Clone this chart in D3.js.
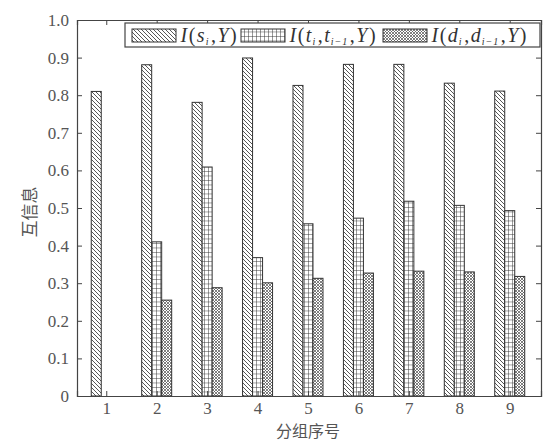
<!DOCTYPE html>
<html>
<head>
<meta charset="utf-8">
<script src="https://cdn.jsdelivr.net/npm/d3@7"></script>
<style>
  body { margin: 0; background: #fff; }
  svg { display: block; }
</style>
</head>
<body>
<div id="chart"></div>
<script>
// data
const groups = [1, 2, 3, 4, 5, 6, 7, 8, 9]
const sValues = [0.81, 0.881, 0.781, 0.899, 0.826, 0.882, 0.882, 0.832, 0.811]
const tValues = [null, 0.41, 0.609, 0.368, 0.458, 0.473, 0.518, 0.507, 0.493]
const dValues = [null, 0.255, 0.288, 0.301, 0.313, 0.327, 0.332, 0.33, 0.318]
const yTicks = [0, 0.1, 0.2, 0.3, 0.4, 0.5, 0.6, 0.7, 0.8, 0.9, 1.0]

var W = 545, H = 441
var mLeft = 77, mRight = 541, mTop = 20, mBottom = 396

var svg = d3.select("#chart").append("svg")
    .attr("width", W)
    .attr("height", H)

var defs = svg.append("defs")

// diagonal hatch "\\\"
var p1 = defs.append("pattern").attr("id", "hatch")
    .attr("patternUnits", "userSpaceOnUse").attr("width", 4).attr("height", 4)
p1.append("rect").attr("width", 4).attr("height", 4).attr("fill", "#fff")
p1.append("path").attr("d", "M-1,-1 L5,5 M-1,3 L1,5 M3,-1 L5,1")
    .attr("stroke", "#444").attr("stroke-width", 0.9)

// square grid
var p2 = defs.append("pattern").attr("id", "grid")
    .attr("patternUnits", "userSpaceOnUse").attr("width", 4).attr("height", 4.5)
p2.append("rect").attr("width", 4).attr("height", 4.5).attr("fill", "#fff")
p2.append("path").attr("d", "M0,0 H4 M0,0 V4.5")
    .attr("stroke", "#333").attr("stroke-width", 1)

// fine crosshatch
var p3 = defs.append("pattern").attr("id", "cross")
    .attr("patternUnits", "userSpaceOnUse").attr("width", 3).attr("height", 3)
p3.append("rect").attr("width", 3).attr("height", 3).attr("fill", "#fff")
p3.append("path").attr("d", "M0,0 L3,3 M3,0 L0,3")
    .attr("stroke", "#555").attr("stroke-width", 0.75)

var x = d3.scaleLinear().domain([0.42, 9.62]).range([mLeft, mRight])
var y = d3.scaleLinear().domain([0, 1]).range([mBottom, mTop])

var barW = 10
var series = [
    { vals: sValues, fill: "url(#hatch)", off: -10 },
    { vals: tValues, fill: "url(#grid)", off: 0 },
    { vals: dValues, fill: "url(#cross)", off: 10 }
]

series.forEach(function (s) {
    svg.append("g").selectAll("rect")
        .data(groups.map(function (g, i) { return { g: g, v: s.vals[i] } }).filter(function (d) { return d.v != null }))
        .enter().append("rect")
        .attr("x", function (d) { return x(d.g) + s.off - barW / 2 })
        .attr("y", function (d) { return y(d.v) })
        .attr("width", barW)
        .attr("height", function (d) { return mBottom - y(d.v) })
        .attr("fill", s.fill)
        .attr("stroke", "#333")
        .attr("stroke-width", 1)
})

// axes, ticks pointing inward
var serif = "'Liberation Serif', 'DejaVu Serif', serif"

svg.append("g").attr("transform", "translate(" + mLeft + ",0)")
    .call(d3.axisLeft(y).tickValues(yTicks).tickSize(-5).tickPadding(8)
        .tickFormat(function (d) { return d === 0 ? "0" : d3.format(".1f")(d) }))
svg.append("g").attr("transform", "translate(" + mRight + ",0)")
    .call(d3.axisRight(y).tickValues(yTicks).tickSize(-5).tickFormat(""))
svg.append("g").attr("transform", "translate(0," + mBottom + ")")
    .call(d3.axisBottom(x).tickValues(groups).tickSize(-5).tickPadding(6)
        .tickFormat(d3.format("d")))
svg.append("g").attr("transform", "translate(0," + mTop + ")")
    .call(d3.axisTop(x).tickValues(groups).tickSize(-5).tickFormat(""))

svg.selectAll(".domain").attr("stroke", "#444").attr("stroke-width", 1.2)
svg.selectAll(".tick line").attr("stroke", "#444")
svg.selectAll(".tick text")
    .attr("font-family", serif)
    .style("font-family", serif)
    .style("font-size", "17px")
    .attr("fill", "#555")

// legend
var lg = svg.append("g")
lg.append("rect").attr("x", 125).attr("y", 23).attr("width", 415).attr("height", 24)
    .attr("fill", "#fff").attr("stroke", "#444").attr("stroke-width", 1.2)

// parts: [text, style] where style: i = italic, n = upright, s = subscript
var legendItems = [
    { fill: "url(#hatch)", x: 132, parts: [["I", "i"], ["(", "n"], ["s", "i"], ["i", "s"], [",", "n"], ["Y", "i"], [")", "n"]] },
    { fill: "url(#grid)", x: 241, parts: [["I", "i"], ["(", "n"], ["t", "i"], ["i", "s"], [",", "n"], ["t", "i"], ["i−1", "s"], [",", "n"], ["Y", "i"], [")", "n"]] },
    { fill: "url(#cross)", x: 383, parts: [["I", "i"], ["(", "n"], ["d", "i"], ["i", "s"], [",", "n"], ["d", "i"], ["i−1", "s"], [",", "n"], ["Y", "i"], [")", "n"]] }
]

legendItems.forEach(function (it) {
    lg.append("rect").attr("x", it.x).attr("y", 29).attr("width", 44).attr("height", 13)
        .attr("fill", it.fill).attr("stroke", "#333").attr("stroke-width", 1)
    var t = lg.append("text").attr("x", it.x + 47).attr("y", 42)
        .style("font-family", serif)
        .style("font-size", "20px").attr("fill", "#333")
    var wasSub = false
    it.parts.forEach(function (p) {
        var ts = t.append("tspan").text(p[0])
        if (p[1] === "s") {
            ts.style("font-size", "10px").style("font-style", "italic")
                .attr("dy", 3).attr("dx", 1).style("letter-spacing", "1px")
            wasSub = true
        } else {
            ts.style("font-style", p[1] === "i" ? "italic" : "normal")
                .attr("dx", 1.5)
            if (wasSub) ts.attr("dy", -3)
            wasSub = false
        }
    })
})

// axis titles
svg.append("text")
    .attr("transform", "translate(36," + (y(0.5) + 4) + ") rotate(-90)")
    .attr("text-anchor", "middle")
    .style("font-family", "'Noto Sans CJK SC', sans-serif")
    .style("font-size", "17px")
    .attr("fill", "#555")
    .text("互信息")

svg.append("text")
    .attr("x", x(5))
    .attr("y", 437)
    .attr("text-anchor", "middle")
    .style("font-family", "'Noto Sans CJK SC', sans-serif")
    .style("font-size", "16px")
    .attr("fill", "#555")
    .text("分组序号")
</script>
</body>
</html>
